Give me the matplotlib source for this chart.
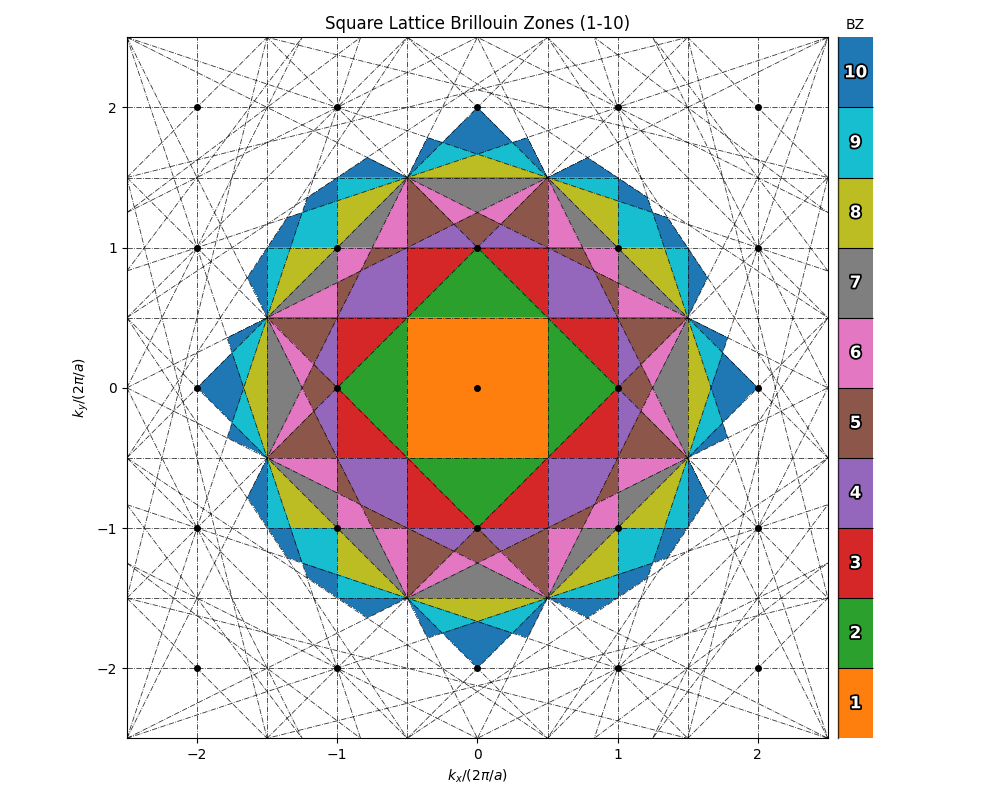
import numpy as np
import matplotlib
matplotlib.use('Agg')
import matplotlib.pyplot as plt
import matplotlib.patheffects as pe
from matplotlib.colors import ListedColormap, BoundaryNorm

dot_indices = [-2, -1, 0, 1, 2]
line_indices = [-4, -3, -2, -1, 0, 1, 2, 3, 4]
zone_labels = [1, 2, 3, 4, 5, 6, 7, 8, 9, 10]
zone_colors = ['#ff7f0e', '#2ca02c', '#d62728', '#9467bd', '#8c564b',
               '#e377c2', '#7f7f7f', '#bcbd22', '#17becf', '#1f77b4']
k_limit = 2.5
ticks = [-2, -1, 0, 1, 2]


def zone_map(n=701):
    k = np.linspace(-k_limit, k_limit, n)
    kx, ky = np.meshgrid(k, k)
    g = np.arange(-8, 9)
    gx, gy = np.meshgrid(g, g)
    gx = gx.ravel()
    gy = gy.ravel()
    keep = ~((gx == 0) & (gy == 0))
    count = np.zeros_like(kx, dtype=int)
    # zone index = how many lattice points are closer than the origin, plus one
    for a, b in zip(gx[keep], gy[keep]):
        count += (kx * a + ky * b) > (a * a + b * b) / 2
    zones = (count + 1).astype(float)
    zones[zones > len(zone_labels)] = np.nan
    return k, zones


fig = plt.figure(figsize=(10, 8), dpi=100)
ax = fig.add_axes([0.1269, 0.0771, 0.701, 0.87625])
cax = fig.add_axes([0.8383, 0.0771, 0.0345, 0.87625])

k, zones = zone_map()
cmap = ListedColormap(zone_colors)
norm = BoundaryNorm(np.arange(0.5, len(zone_labels) + 1), cmap.N)
ax.imshow(zones, origin='lower', extent=[-k_limit, k_limit, -k_limit, k_limit],
          cmap=cmap, norm=norm, interpolation='nearest', aspect='auto')

# bisector lines
for a in line_indices:
    for b in line_indices:
        if a == 0 and b == 0:
            continue
        c = (a * a + b * b) / 2
        if b != 0:
            xs = np.array([-k_limit, k_limit])
            ax.plot(xs, (c - a * xs) / b, color='k', ls='-.', lw=0.6, alpha=0.8)
        else:
            ax.axvline(c / a, color='k', ls='-.', lw=0.6, alpha=0.8)

for a in dot_indices:
    for b in dot_indices:
        ax.plot(a, b, 'o', color='k', ms=4, zorder=5)

ax.set_xlim(-k_limit, k_limit)
ax.set_ylim(-k_limit, k_limit)
ax.set_xticks(ticks)
ax.set_yticks(ticks)
ax.set_xlabel(r'$k_x/(2\pi/a)$')
ax.set_ylabel(r'$k_y/(2\pi/a)$')
ax.set_title('Square Lattice Brillouin Zones (1-10)')

cb = fig.colorbar(plt.cm.ScalarMappable(norm=norm, cmap=cmap), cax=cax,
                  ticks=zone_labels, drawedges=True)
cb.outline.set_visible(False)
cb.dividers.set_linewidth(0.8)
cb.minorticks_off()
cax.tick_params(which='both', length=0, labelright=False)
cax.axvline(cax.get_xlim()[0], color='k', lw=1.0, alpha=0.7, clip_on=False)
cax.set_title('BZ', fontsize=10)
for z in zone_labels:
    cax.text(0.5, z, str(z), ha='center', va='center', color='white',
             fontweight='bold', fontsize=12, transform=cax.get_yaxis_transform(),
             path_effects=[pe.withStroke(linewidth=2.5, foreground='black')])

fig.savefig('out.png', dpi=100)
